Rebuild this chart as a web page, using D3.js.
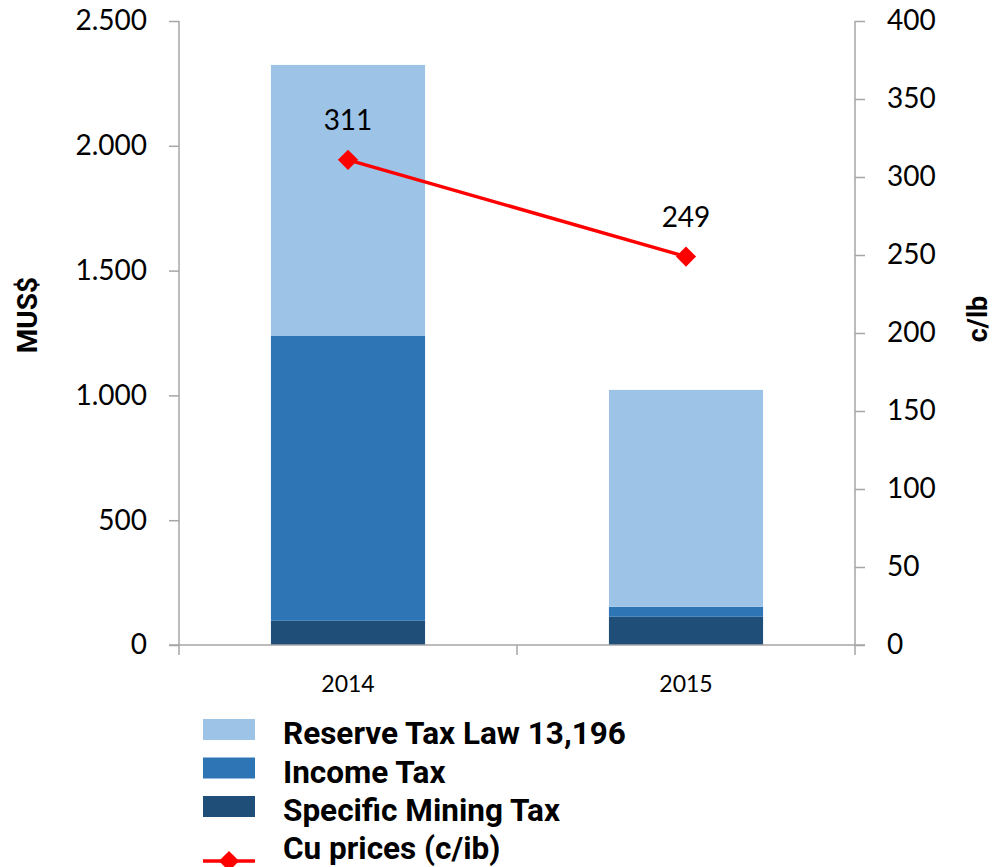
<!DOCTYPE html>
<html>
<head>
<meta charset="utf-8">
<script src="https://cdn.jsdelivr.net/npm/d3@7"></script>
<style>
  html, body { margin: 0; padding: 0; background: #ffffff; }
  svg { display: block; }
</style>
</head>
<body>
<svg id="chart" width="995" height="867"></svg>
<script>
// Tax collections by year (MUS$) and copper price (c/lb)
const years = ["2014", "2015"];
const specificMiningTax = [97, 113];
const incomeTax = [1141, 40];
const reserveTaxLaw = [1086, 869];
const cuPrices = [311, 249];

const leftTicks = [0, 500, 1000, 1500, 2000, 2500];
const rightTicks = [0, 50, 100, 150, 200, 250, 300, 350, 400];

const seriesNames = ["Specific Mining Tax", "Income Tax", "Reserve Tax Law 13,196"];
const seriesColors = ["#1f4e79", "#2e75b6", "#9dc3e6"];
const lineName = "Cu prices (c/ib)";
const lineColor = "#ff0000";

const svg = d3.select("#chart");
const plot = { left: 179, right: 855, top: 21, bottom: 645 };
const axisColor = "#a6a6a6";
const tickFont = "Lato, 'Open Sans', sans-serif";
const boldFont = "Roboto, 'Noto Sans', sans-serif";

const x = d3.scaleBand()
  .domain(years)
  .range([plot.left, plot.right])
  .paddingInner(0.544)
  .paddingOuter(0.272);

const yLeft = d3.scaleLinear().domain([0, 2500]).range([plot.bottom, plot.top]);
const yRight = d3.scaleLinear().domain([0, 400]).range([plot.bottom, plot.top]);

// Stacked bars
const rows = years.map((yr, i) => ({
  year: yr,
  "Specific Mining Tax": specificMiningTax[i],
  "Income Tax": incomeTax[i],
  "Reserve Tax Law 13,196": reserveTaxLaw[i]
}));
const stacked = d3.stack().keys(seriesNames)(rows);

svg.append("g")
  .selectAll("g")
  .data(stacked)
  .join("g")
  .attr("fill", (d, i) => seriesColors[i])
  .selectAll("rect")
  .data(d => d)
  .join("rect")
  .attr("x", d => x(d.data.year))
  .attr("width", x.bandwidth())
  .attr("y", d => yLeft(d[1]))
  .attr("height", d => yLeft(d[0]) - yLeft(d[1]));

// Left axis
const leftAxis = svg.append("g")
  .attr("transform", `translate(${plot.left},0)`)
  .call(d3.axisLeft(yLeft).tickValues(leftTicks).tickSize(10).tickPadding(22)
    .tickFormat(d => d3.format(",")(d).replace(/,/g, ".")));
leftAxis.select(".domain").attr("stroke", axisColor).attr("stroke-width", 1.5)
  .attr("d", `M0,${plot.top}V${plot.bottom}`);
leftAxis.selectAll(".tick line").attr("stroke", axisColor).attr("stroke-width", 1.5);
leftAxis.selectAll(".tick text").attr("fill", "#000").style("font-family", tickFont).style("font-size", "28px");

// Right axis
const rightAxis = svg.append("g")
  .attr("transform", `translate(${plot.right},0)`)
  .call(d3.axisRight(yRight).tickValues(rightTicks).tickSize(10).tickPadding(22));
rightAxis.select(".domain").attr("stroke", axisColor).attr("stroke-width", 1.5)
  .attr("d", `M0,${plot.top}V${plot.bottom}`);
rightAxis.selectAll(".tick line").attr("stroke", axisColor).attr("stroke-width", 1.5);
rightAxis.selectAll(".tick text").attr("fill", "#000").style("font-family", tickFont).style("font-size", "28px");

// Bottom axis with ticks at category boundaries
const boundaries = [plot.left, ...years.slice(1).map(y => x(y) - x.step() * x.paddingInner() / 2), plot.right];
const bottom = svg.append("g");
bottom.append("line")
  .attr("x1", plot.left - 10).attr("x2", plot.right + 10)
  .attr("y1", plot.bottom).attr("y2", plot.bottom)
  .attr("stroke", axisColor).attr("stroke-width", 1.5);
bottom.selectAll("line.tk")
  .data(boundaries)
  .join("line")
  .attr("class", "tk")
  .attr("x1", d => d).attr("x2", d => d)
  .attr("y1", plot.bottom).attr("y2", plot.bottom + 10)
  .attr("stroke", axisColor).attr("stroke-width", 1.5);
bottom.selectAll("text")
  .data(years)
  .join("text")
  .attr("x", d => x(d) + x.bandwidth() / 2)
  .attr("y", 692)
  .attr("text-anchor", "middle")
  .style("font-family", tickFont)
  .style("font-size", "23px")
  .text(d => d);

// Axis titles
svg.append("text")
  .attr("transform", "translate(37,315) rotate(-90)")
  .attr("text-anchor", "middle")
  .style("font-family", boldFont).style("font-weight", "bold").style("font-size", "28px")
  .text("MUS$");
svg.append("text")
  .attr("transform", "translate(987,319) rotate(-90)")
  .attr("text-anchor", "middle")
  .style("font-family", boldFont).style("font-weight", "bold").style("font-size", "27px")
  .text("c/lb");

// Copper price line
const cx = d => x(d) + x.bandwidth() / 2;
const linePts = years.map((yr, i) => [cx(yr), yRight(cuPrices[i])]);
svg.append("path")
  .attr("d", d3.line()(linePts))
  .attr("fill", "none")
  .attr("stroke", lineColor)
  .attr("stroke-width", 3.5);

const diamond = d3.symbol().type(d3.symbolDiamond2).size(260);
svg.selectAll("path.marker")
  .data(linePts)
  .join("path")
  .attr("class", "marker")
  .attr("transform", d => `translate(${d[0]},${d[1]})`)
  .attr("d", diamond)
  .attr("fill", lineColor);

svg.selectAll("text.val")
  .data(years.map((yr, i) => ({ yr, v: cuPrices[i] })))
  .join("text")
  .attr("class", "val")
  .attr("x", d => cx(d.yr))
  .attr("y", d => yRight(d.v) - 30)
  .attr("text-anchor", "middle")
  .style("font-family", tickFont)
  .style("font-size", "28px")
  .text(d => d.v);

// Legend
const legendItems = [
  { name: seriesNames[2], color: seriesColors[2], type: "rect" },
  { name: seriesNames[1], color: seriesColors[1], type: "rect" },
  { name: seriesNames[0], color: seriesColors[0], type: "rect" },
  { name: lineName, color: lineColor, type: "line" }
];
const legend = svg.append("g").attr("transform", "translate(203,0)");
const rowY = [744, 782.5, 821, 859];
legendItems.forEach((it, i) => {
  const g = legend.append("g");
  if (it.type === "rect") {
    g.append("rect")
      .attr("x", 0).attr("y", rowY[i] - 25).attr("width", 52).attr("height", 21)
      .attr("fill", it.color);
  } else {
    g.append("line")
      .attr("x1", 0).attr("x2", 52).attr("y1", rowY[i] + 2).attr("y2", rowY[i] + 2)
      .attr("stroke", it.color).attr("stroke-width", 3.5);
    g.append("path")
      .attr("transform", `translate(26,${rowY[i] + 2})`)
      .attr("d", diamond)
      .attr("fill", it.color);
  }
  g.append("text")
    .attr("x", 80).attr("y", rowY[i])
    .style("font-family", boldFont).style("font-weight", "bold").style("font-size", "31.5px")
    .text(it.name);
});
</script>
</body>
</html>
